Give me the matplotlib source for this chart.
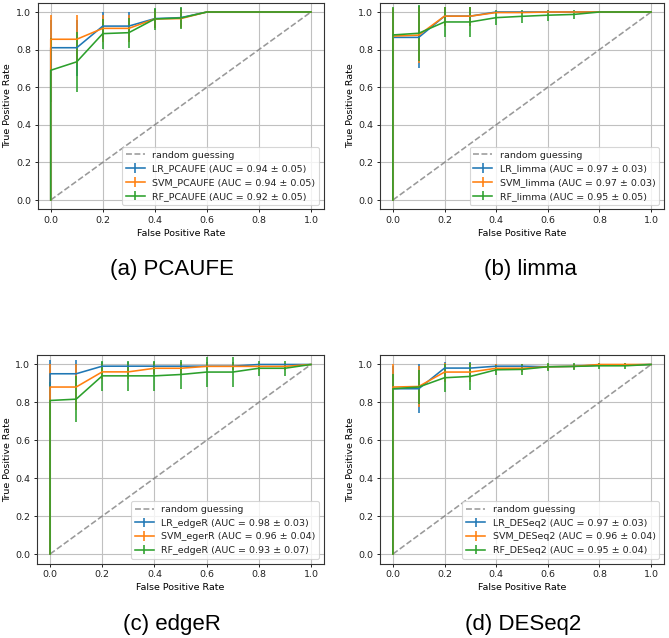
import matplotlib
matplotlib.use('Agg')
import matplotlib.pyplot as plt

# ---------------- data ----------------
fpr = [0.0, 0.0, 0.1, 0.2, 0.3, 0.4, 0.5, 0.6, 0.7, 0.8, 0.9, 1.0]

captions = ["(a) PCAUFE", "(b) limma", "(c) edgeR", "(d) DESeq2"]

labels_a = ["LR_PCAUFE (AUC = 0.94 ± 0.05)", "SVM_PCAUFE (AUC = 0.94 ± 0.05)", "RF_PCAUFE (AUC = 0.92 ± 0.05)"]
lr_a = [0, 0.81, 0.81, 0.925, 0.925, 0.965, 0.97, 1, 1, 1, 1, 1]
svm_a = [0, 0.855, 0.855, 0.913, 0.913, 0.963, 0.965, 1, 1, 1, 1, 1]
rf_a = [0, 0.69, 0.735, 0.885, 0.89, 0.963, 0.968, 1, 1, 1, 1, 1]
lr_a_sd = [0, 0.15, 0.15, 0.075, 0.075, 0.05, 0.05, 0, 0, 0, 0, 0]
svm_a_sd = [0, 0.13, 0.13, 0.07, 0.07, 0.05, 0.05, 0, 0, 0, 0, 0]
rf_a_sd = [0, 0.17, 0.16, 0.08, 0.08, 0.06, 0.06, 0, 0, 0, 0, 0]

labels_b = ["LR_limma (AUC = 0.97 ± 0.03)", "SVM_limma (AUC = 0.97 ± 0.03)", "RF_limma (AUC = 0.95 ± 0.05)"]
lr_b = [0, 0.865, 0.865, 0.978, 0.978, 1, 1, 1, 1, 1, 1, 1]
svm_b = [0, 0.872, 0.877, 0.978, 0.978, 0.997, 0.997, 1, 1, 1, 1, 1]
rf_b = [0, 0.878, 0.887, 0.947, 0.947, 0.97, 0.977, 0.983, 0.987, 1, 1, 1]
lr_b_sd = [0, 0.15, 0.165, 0.05, 0.05, 0, 0, 0, 0, 0, 0, 0]
svm_b_sd = [0, 0.15, 0.15, 0.05, 0.05, 0.01, 0.01, 0, 0, 0, 0, 0]
rf_b_sd = [0, 0.15, 0.15, 0.08, 0.08, 0.04, 0.035, 0.03, 0.025, 0, 0, 0]

labels_c = ["LR_edgeR (AUC = 0.98 ± 0.03)", "SVM_egerR (AUC = 0.96 ± 0.04)", "RF_edgeR (AUC = 0.93 ± 0.07)"]
lr_c = [0, 0.951, 0.951, 0.991, 0.991, 0.991, 0.991, 0.991, 0.991, 1.0, 1.0, 1.0]
svm_c = [0, 0.881, 0.881, 0.961, 0.961, 0.98, 0.98, 0.99, 0.99, 0.99, 0.99, 1.0]
rf_c = [0, 0.81, 0.817, 0.94, 0.94, 0.94, 0.947, 0.96, 0.96, 0.98, 0.98, 1.0]
lr_c_sd = [0, 0.075, 0.075, 0.02, 0.02, 0.02, 0.02, 0.02, 0.02, 0, 0, 0]
svm_c_sd = [0, 0.12, 0.12, 0.04, 0.04, 0.03, 0.03, 0.02, 0.02, 0.02, 0.02, 0]
rf_c_sd = [0, 0.1, 0.12, 0.08, 0.08, 0.08, 0.075, 0.08, 0.08, 0.04, 0.04, 0]

labels_d = ["LR_DESeq2 (AUC = 0.97 ± 0.03)", "SVM_DESeq2 (AUC = 0.96 ± 0.04)", "RF_DESeq2 (AUC = 0.95 ± 0.04)"]
lr_d = [0, 0.872, 0.872, 0.981, 0.981, 0.991, 0.991, 0.988, 0.99, 0.997, 0.997, 1.0]
svm_d = [0, 0.881, 0.884, 0.96, 0.96, 0.98, 0.98, 0.988, 0.99, 1.0, 1.0, 1.0]
rf_d = [0, 0.872, 0.881, 0.93, 0.937, 0.972, 0.974, 0.988, 0.99, 0.993, 0.993, 1.0]
lr_d_sd = [0, 0.12, 0.13, 0.03, 0.03, 0.01, 0.01, 0.01, 0.01, 0.005, 0.005, 0]
svm_d_sd = [0, 0.12, 0.11, 0.05, 0.05, 0.02, 0.02, 0.015, 0.015, 0.01, 0.01, 0]
rf_d_sd = [0, 0.08, 0.09, 0.075, 0.07, 0.027, 0.027, 0.02, 0.02, 0.015, 0.015, 0]

panels = [
    (labels_a, [lr_a, svm_a, rf_a], [lr_a_sd, svm_a_sd, rf_a_sd]),
    (labels_b, [lr_b, svm_b, rf_b], [lr_b_sd, svm_b_sd, rf_b_sd]),
    (labels_c, [lr_c, svm_c, rf_c], [lr_c_sd, svm_c_sd, rf_c_sd]),
    (labels_d, [lr_d, svm_d, rf_d], [lr_d_sd, svm_d_sd, rf_d_sd]),
]

# ---------------- style ----------------
s = 0.68
plt.rcParams.update({
    'font.size': 10 * s,
    'axes.linewidth': 0.8,
    'axes.edgecolor': '#333333',
    'grid.linewidth': 0.8,
    'grid.color': '#c0c0c0',
    'lines.linewidth': 1.15,
    'xtick.major.size': 3.5 * s,
    'ytick.major.size': 3.5 * s,
    'xtick.major.width': 0.7,
    'ytick.major.width': 0.7,
    'xtick.major.pad': 3.5 * s,
    'ytick.major.pad': 3.5 * s,
    'axes.labelpad': 4 * s,
    'patch.linewidth': 0.8,
    'text.color': '#222222',
    'xtick.color': '#222222',
    'ytick.color': '#222222',
})

W, H = 669, 638
fig = plt.figure(figsize=(W / 100, H / 100), dpi=100)

# axes boxes in pixels: left, top, right, bottom
boxes = [
    (37.7, 2.6, 324, 209.4),
    (380, 2.6, 664, 209.4),
    (37.0, 355, 324, 563.5),
    (380, 355, 664, 563.5),
]
cap_pos = [(172, 275), (530, 275), (172, 630), (523, 630)]

for i, (labels, means, sds) in enumerate(panels):
    l, t, r, b = boxes[i]
    ax = fig.add_axes([l / W, 1 - b / H, (r - l) / W, (b - t) / H])
    ax.plot([0, 1], [0, 1], linestyle='--', color='gray', alpha=0.8, label='random guessing')
    for lab, m, sd in zip(labels, means, sds):
        ax.errorbar(fpr, m, yerr=sd, label=lab)
    ax.set_xlim(-0.05, 1.05)
    ax.set_ylim(-0.05, 1.05)
    ax.set_xticks([0.0, 0.2, 0.4, 0.6, 0.8, 1.0])
    ax.set_yticks([0.0, 0.2, 0.4, 0.6, 0.8, 1.0])
    ax.set_xlabel('False Positive Rate')
    ax.set_ylabel('True Positive Rate')
    ax.grid(True)
    ax.legend(loc='lower right')
    cx, cy = cap_pos[i]
    fig.text(cx / W, 1 - cy / H, captions[i], ha='center', va='baseline',
             fontsize=16, family='Liberation Sans', color='black')

fig.savefig('out.png', dpi=100)
